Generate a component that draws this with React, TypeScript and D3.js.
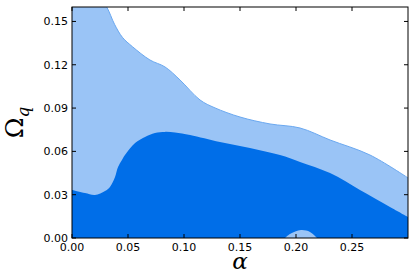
import React from "react";
import * as d3 from "d3";

const xTicks = [0.0, 0.05, 0.1, 0.15, 0.2, 0.25];
const yTicks = [0.0, 0.03, 0.06, 0.09, 0.12, 0.15];

// outer (light) contour top boundary [alpha, Omega_q]
const outerX = [0.0, 0.02, 0.031, 0.038, 0.045, 0.054, 0.0696, 0.083, 0.0964, 0.1143, 0.1277, 0.15, 0.1768, 0.2036, 0.2304, 0.266, 0.3];
const outerY = [0.185, 0.172, 0.16, 0.148, 0.139, 0.1325, 0.1233, 0.1185, 0.1095, 0.0956, 0.0901, 0.0838, 0.079, 0.0762, 0.0679, 0.0575, 0.0416];

// inner (dark) contour top boundary
const innerX = [0.0, 0.0116, 0.0205, 0.0295, 0.0339, 0.0384, 0.0411, 0.0446, 0.0473, 0.0563, 0.0652, 0.0741, 0.083, 0.092, 0.1054, 0.1321, 0.1589, 0.1857, 0.2036, 0.2304, 0.2571, 0.2839, 0.3];
const innerY = [0.0333, 0.0312, 0.0298, 0.0326, 0.0354, 0.0423, 0.0492, 0.054, 0.0575, 0.0658, 0.07, 0.0728, 0.0735, 0.0731, 0.0714, 0.0665, 0.0624, 0.0575, 0.0527, 0.045, 0.0333, 0.0215, 0.0146];

// small hole near alpha = 0.2
const holeX = [0.1902, 0.1946, 0.2045, 0.2125, 0.2188];
const holeY = [0.0, 0.0028, 0.0055, 0.0042, 0.0];

const W = 416, H = 278;
const M = { left: 72, right: 8, top: 7, bottom: 40 };

export default function App() {
  const x = d3.scaleLinear().domain([0, 0.3]).range([M.left, W - M.right]);
  const y = d3.scaleLinear().domain([0, 0.16]).range([H - M.bottom, M.top]);
  const zip = (xs: number[], ys: number[]) => xs.map((v, i) => [v, ys[i]] as [number, number]);
  const curve = d3.curveCatmullRom.alpha(0.5);

  const area = d3
    .area<[number, number]>()
    .x((d) => x(d[0]))
    .y0(y(0))
    .y1((d) => y(d[1]))
    .curve(curve);
  const line = d3
    .line<[number, number]>()
    .x((d) => x(d[0]))
    .y((d) => y(d[1]))
    .curve(curve);

  const outer = zip(outerX, outerY);
  const inner = zip(innerX, innerY);
  const hole = zip(holeX, holeY);

  const x0 = x(0), x1 = x(0.3), y0 = y(0), y1 = y(0.16);
  const tl = 4;

  return (
    <svg width={W} height={H} style={{ position: "absolute", left: 0, top: 0 }} fontFamily="DejaVu Sans">
      <defs>
        <clipPath id="plot">
          <rect x={x0} y={y1} width={x1 - x0} height={y0 - y1} />
        </clipPath>
      </defs>
      <rect width={W} height={H} fill="#fff" />
      <g clipPath="url(#plot)">
        <path d={area(outer) || ""} fill="#9ac4f6" />
        <path d={line(outer) || ""} fill="none" stroke="#6aa8f0" strokeWidth={1} />
        <path d={area(inner) || ""} fill="#006ee8" />
        <path d={area(hole) || ""} fill="#9ac4f6" />
      </g>
      <rect x={x0} y={y1} width={x1 - x0} height={y0 - y1} fill="none" stroke="#000" strokeWidth={1} />
      {xTicks.map((t) => (
        <g key={"x" + t}>
          <line x1={x(t)} x2={x(t)} y1={y0} y2={y0 - tl} stroke="#000" />
          <line x1={x(t)} x2={x(t)} y1={y1} y2={y1 + tl} stroke="#000" />
          <text x={x(t)} y={y0 + 13} fontSize={11} textAnchor="middle">
            {t.toFixed(2)}
          </text>
        </g>
      ))}
      {yTicks.map((t) => (
        <g key={"y" + t}>
          <line x1={x0} x2={x0 + tl} y1={y(t)} y2={y(t)} stroke="#000" />
          <line x1={x1} x2={x1 - tl} y1={y(t)} y2={y(t)} stroke="#000" />
          <text x={x0 - 4} y={y(t) + 4} fontSize={11} textAnchor="end">
            {t.toFixed(2)}
          </text>
        </g>
      ))}
      <text x={(x0 + x1) / 2} y={269} fontSize={23} fontStyle="italic" fontFamily="DejaVu Serif" textAnchor="middle">
        α
      </text>
      <text
        transform={`translate(23,${(y0 + y1) / 2}) rotate(-90)`}
        fontSize={25}
        fontFamily="DejaVu Serif"
        textAnchor="middle"
      >
        Ω<tspan fontSize={17} fontStyle="italic" dy={6}>q</tspan>
      </text>
    </svg>
  );
}
